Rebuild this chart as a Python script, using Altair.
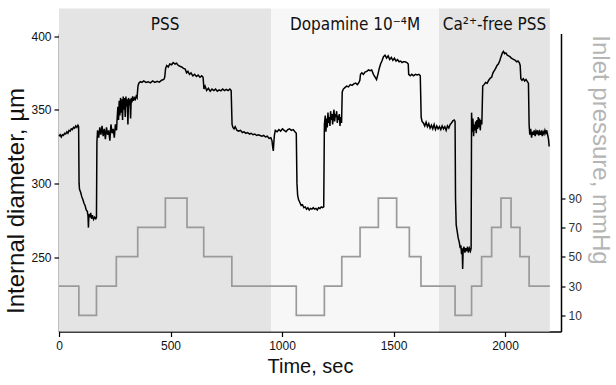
import altair as alt
import pandas as pd

# ---- diameter trace (time s, internal diameter µm) ----
trace_t = [0, 5, 10, 15, 20, 25, 30, 35, 40, 45, 50, 55, 60, 65, 70, 75, 80, 85, 88,
           90, 92, 97, 102, 107, 112, 117, 122, 127, 130, 132, 134, 138, 142, 146, 150, 155, 160, 165, 168,
           170, 173, 178, 183, 188, 193, 198, 203, 208, 213, 218, 223, 228, 233, 238, 243, 248, 253, 258,
           260, 264, 267, 270, 273, 276, 279, 282, 285, 288, 291, 294, 297, 300, 303, 306, 309, 312, 315, 318,
           321, 324, 327, 330, 334, 338, 342, 346, 350,
           354, 358, 365, 372, 380, 390, 400, 410, 420, 430, 440, 450, 460, 470, 474,
           478, 483, 490, 497, 505, 512, 520, 527, 535, 542, 550, 558, 566, 572, 578, 585, 592, 600, 608, 616,
           624, 632, 640, 646,
           650, 655, 662, 670, 678, 686, 694, 702, 710, 718, 726, 734, 742, 750, 758, 766, 772,
           776, 780, 785, 790, 798, 806, 814, 822, 830, 838, 846, 854, 862, 870, 878, 886, 894, 902, 910, 918,
           926, 934, 942, 950, 955, 958, 961, 963, 966,
           970, 978, 986, 994, 1002, 1010, 1018, 1026, 1034, 1042, 1050, 1058, 1064,
           1067, 1070, 1074, 1080, 1086, 1092, 1098, 1104, 1110, 1116, 1122, 1128, 1134, 1140, 1146, 1152,
           1158, 1164, 1170, 1176, 1182, 1187,
           1190, 1194, 1197, 1200, 1203, 1206, 1209, 1212, 1215, 1218, 1221, 1224, 1227, 1230, 1233, 1236,
           1239, 1242, 1245, 1248, 1251, 1254, 1257, 1260, 1263, 1267,
           1270, 1275, 1282, 1290, 1298, 1306, 1314, 1322, 1330, 1338, 1345, 1349,
           1352, 1358, 1365, 1372, 1380, 1388, 1395, 1402, 1410, 1418, 1424, 1430, 1436, 1442, 1448, 1455,
           1462, 1469, 1476, 1483, 1490, 1497, 1504, 1511, 1518, 1525, 1532, 1538, 1544, 1552, 1560, 1566,
           1568, 1575, 1582, 1590, 1598, 1606, 1614, 1620,
           1624, 1628, 1634, 1640, 1646, 1652, 1658, 1664, 1670, 1676, 1682, 1688, 1694, 1700, 1706, 1712,
           1718, 1724, 1730, 1736, 1742, 1748, 1754, 1760, 1766, 1772, 1776,
           1778, 1781, 1785, 1790, 1795, 1799, 1802, 1805, 1808, 1810, 1812, 1816, 1820, 1824, 1828, 1832,
           1836, 1840, 1845, 1848,
           1850, 1853, 1856, 1859, 1862, 1865, 1868, 1871, 1874, 1877, 1880, 1883, 1886, 1889, 1892, 1896,
           1900, 1906, 1913, 1920, 1927, 1934, 1940, 1946, 1952, 1958, 1964, 1970, 1976, 1982, 1988, 1993,
           1998, 2004, 2010, 2016, 2022, 2028, 2034, 2040, 2046, 2052, 2058, 2064, 2068,
           2071, 2076, 2082, 2088, 2094, 2100, 2105,
           2108, 2111, 2115, 2119, 2123, 2127, 2131, 2135, 2139, 2143, 2147, 2151, 2155, 2159, 2163, 2167,
           2171, 2175, 2179, 2183, 2187, 2191, 2195, 2198]

trace_d = [332, 333, 331.5, 333, 332.5, 334, 333.5, 335, 334, 336, 335.5, 337, 336.5, 338, 337.5, 339, 338, 339.5, 338.5,
           300, 296, 294, 291, 289, 286.5, 285, 282, 281, 278, 270, 279, 277, 280, 276, 278.5, 275.5, 277, 276, 277,
           328, 336, 331, 338, 333, 339, 332, 337, 330, 338, 333, 336, 329, 340, 334, 337, 331, 340, 336,
           342, 352, 343, 356, 346, 358, 348, 357, 343, 359, 350, 358, 345, 359, 352, 357, 340, 358, 353, 357,
           344, 358, 355, 359, 356, 358, 357, 359, 358,
           366, 368, 369, 368.5, 369.5, 368.5, 369, 368.2, 369.5, 368.5, 369.3, 368.7, 370, 370.5, 372,
           378, 380, 379, 381, 380.5, 382, 381, 381.5, 380, 379.5, 379, 378, 377.5, 375, 376, 374, 375, 373, 374, 372.5,
           373.5, 372, 373, 372,
           364, 366, 363, 364.5, 362.5, 364, 363, 364, 362.5, 363.5, 362.8, 364, 363, 363.8, 363, 364, 363,
           340, 338, 337, 338.5, 336, 335.5, 336, 334.5, 335, 334, 334.5, 333.5, 334, 333, 333.5, 332.5, 333, 332.5, 332, 332.5,
           331.5, 332, 330.5, 331, 329, 325, 322, 327, 333,
           336, 335, 336.5, 335.5, 337, 336, 335, 336.5, 337, 336, 336.5, 335, 334,
           300, 292, 289, 287, 285, 285.5, 283.5, 284, 282.5, 283.5, 282, 283, 282.5, 283.5, 282.5, 283,
           282, 283.5, 283, 284, 283.5, 284,
           340, 346, 335, 344, 338, 348, 341, 345, 339, 349, 343, 347, 340, 346, 350, 342,
           347, 345, 349, 341, 346, 343, 347, 339, 345, 341,
           362, 364, 365, 366, 365.5, 367, 366.5, 367.5, 368, 367, 368.5, 370,
           374, 375, 374, 375.5, 376, 377, 376.5, 377, 374, 372, 370.5, 374, 378, 381, 383, 386,
           387, 385, 386.5, 384, 385.5, 383.5, 385, 383, 384, 382.5, 383, 382, 382.5, 382.5, 382, 381,
           374, 373, 374, 373, 374, 373.5, 374, 373,
           345, 342, 341, 339, 341.5, 338.5, 340.5, 337.5, 339.5, 337, 340, 336.5, 339, 337, 338.5, 336.5,
           339, 337, 338.5, 336, 339, 337.5, 340, 341, 342.5, 343, 342,
           290, 272, 268, 263, 260, 256, 258, 252, 256, 242, 254, 257, 253, 256, 254, 257,
           253, 256, 254, 256,
           348, 335, 344, 332, 340, 336, 342, 334, 343, 337, 345, 338, 344, 336, 343, 340,
           366, 367, 368.5, 368, 370, 371.5, 372, 375, 376.5, 378, 380, 381, 383, 386, 388.5, 389.5,
           388, 388.5, 387, 386.5, 386, 385, 384.5, 384, 383.5, 382.5, 383, 382, 380,
           371, 370, 371, 369.5, 370.5, 369, 368,
           340, 333, 337, 331, 335, 333, 336, 332, 335.5, 334, 336, 332.5, 335, 333, 336, 332,
           335, 333.5, 336, 334, 336, 333, 330, 325]

# ---- inlet pressure steps (time s, mmHg) ----
press_t = [0, 89, 168, 257, 353, 477, 574, 649, 775, 1064, 1190, 1268, 1350, 1432, 1514, 1571,
           1623, 1776, 1850, 1895, 1940, 1982, 2027, 2067, 2108, 2201]
press_p = [30, 10, 30, 50, 70, 90, 70, 50, 30, 10, 30, 50, 70, 90, 70, 50,
           30, 10, 30, 50, 70, 90, 70, 50, 30, 30]

# ---- condition bands ----
band_labels = ["PSS", "Dopamine 10⁻⁴M", "Ca²⁺-free PSS"]
band_start = [0, 951, 1704]
band_end = [951, 1704, 2201]
band_fill = ["#e4e4e4", "#f7f7f7", "#e4e4e4"]

x_ticks = [0, 500, 1000, 1500, 2000]
d_ticks = [250, 300, 350, 400]
p_ticks = [10, 30, 50, 70, 90]

trace = pd.DataFrame({"t": trace_t, "d": trace_d})
press = pd.DataFrame({"t": press_t, "p": press_p})
bands = pd.DataFrame({"label": band_labels, "start": band_start, "end": band_end,
                      "mid": [(a + b) / 2 for a, b in zip(band_start, band_end)],
                      "fill": band_fill})

NARROW = "Liberation Sans Narrow, Arial Narrow, Liberation Sans, Arial"
REG = "Liberation Sans, Arial"

xscale = alt.Scale(domain=[0, 2251], nice=False, zero=False)

xaxis = alt.Axis(values=x_ticks, format="d", title="Time, sec", grid=False, domainColor="#000",
                 domainWidth=1.5, tickColor="#000", tickSize=5, tickWidth=1.2,
                 labelFont=NARROW, labelFontSize=12, labelColor="#111", labelPadding=4,
                 titleFont=NARROW, titleFontSize=20, titleFontWeight="normal",
                 titleColor="#111", titlePadding=5, labelFlush=False)

bg = alt.Chart(bands).mark_rect().encode(
    x=alt.X("start:Q", scale=xscale, axis=xaxis),
    x2="end:Q",
    y=alt.value(-25),
    y2=alt.value(298),
    fill=alt.Fill("fill:N", scale=None),
)

labels = alt.Chart(bands).mark_text(
    font="DejaVu Sans Condensed, DejaVu Sans", fontSize=17, baseline="alphabetic",
    align="center", color="#111"
).encode(
    x=alt.X("mid:Q", scale=xscale, axis=xaxis),
    y=alt.value(-3.5),
    text="label:N",
)

black = alt.Chart(trace).mark_line(color="#000", strokeWidth=1.5).encode(
    x=alt.X("t:Q", scale=xscale, axis=xaxis),
    y=alt.Y("d:Q", scale=alt.Scale(domain=[199.5, 401.7], nice=False, zero=False),
            axis=alt.Axis(orient="left", values=d_ticks, title="Internal diameter, µm",
                          grid=False, domainColor="#000", domainWidth=1.5, tickColor="#000",
                          tickSize=5, tickWidth=1.2, labelFont=NARROW, labelFontSize=12,
                          labelColor="#111", labelPadding=3, titleFont=REG, titleFontSize=24,
                          titleFontWeight="normal", titleColor="#111", titleAngle=270,
                          titleX=-43, titleY=167, titleAlign="center", titleBaseline="middle")),
)

gray = alt.Chart(press).mark_line(color="#9a9a9a", strokeWidth=1.7, interpolate="step-after").encode(
    x=alt.X("t:Q", scale=xscale, axis=xaxis),
    y=alt.Y("p:Q", scale=alt.Scale(domain=[-1, 202.2], nice=False, zero=False),
            axis=alt.Axis(orient="right", values=p_ticks, title="Inlet pressure, mmHg",
                          grid=False, domainColor="#000", domainWidth=1.5, tickColor="#000",
                          tickSize=4, tickWidth=1.2, labelFont=NARROW, labelFontSize=12,
                          labelColor="#333", labelPadding=3, titleFont=REG, titleFontSize=24,
                          titleFontWeight="normal", titleColor="#b5b5b5", titleAngle=90,
                          titleX=38, titleY=116, titleAlign="center", titleBaseline="middle")),
)

chart = alt.layer(bg, labels, black, gray).resolve_scale(y="independent").properties(
    width=502, height=298,
    autosize=alt.AutoSizeParams(type="none"),
    padding={"left": 59, "top": 33.5, "right": 55, "bottom": 53.5},
    background="white",
).configure_view(stroke=None)

chart.save("out.html", embed_options={"renderer": "svg", "actions": False})
